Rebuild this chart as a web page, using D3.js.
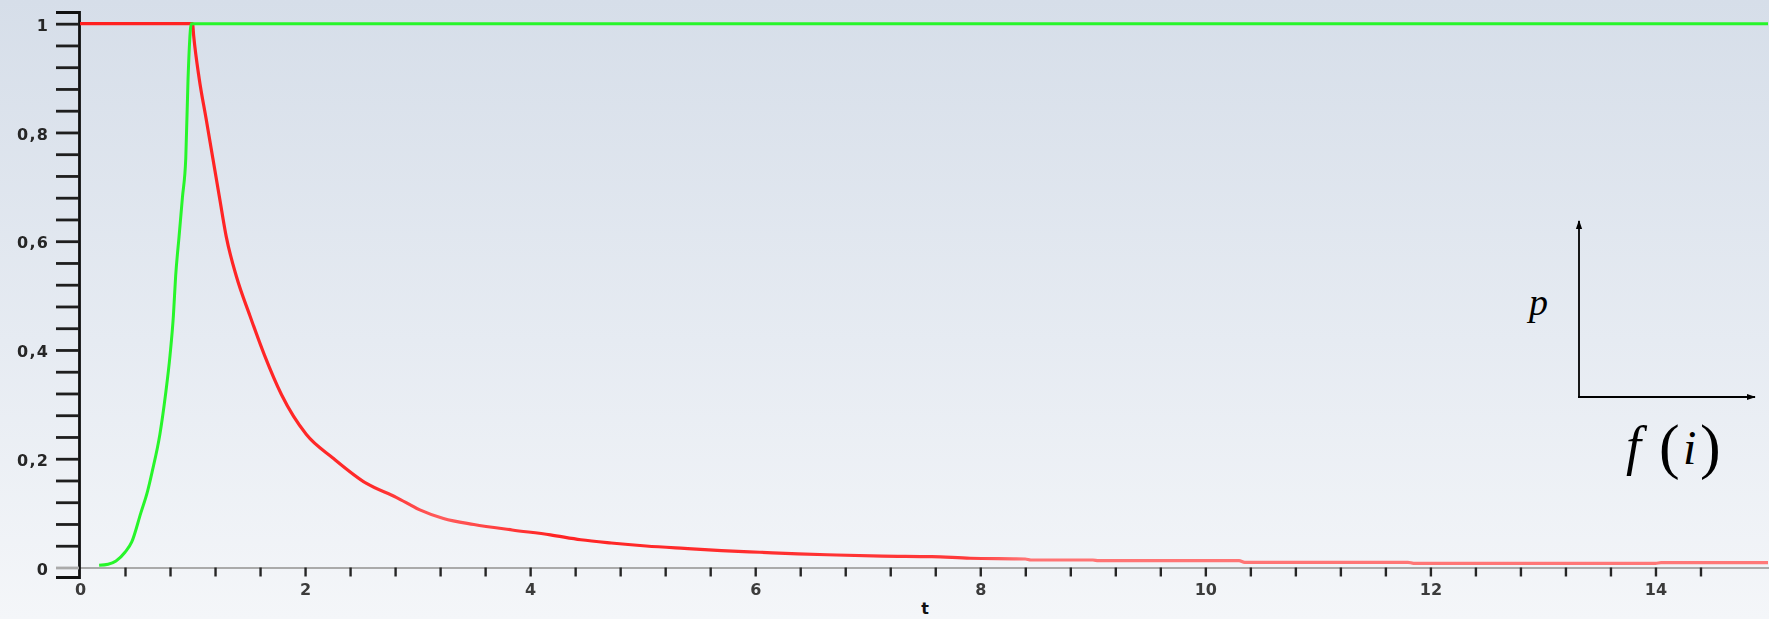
<!DOCTYPE html>
<html>
<head>
<meta charset="utf-8">
<script src="https://cdn.jsdelivr.net/npm/d3@7"></script>
<style>
  html, body { margin: 0; padding: 0; overflow: hidden; background: #eef1f6; }
  svg { display: block; }
</style>
</head>
<body>
<svg id="chart" width="1769" height="619"></svg>
<script>
// Falling curve p(t): flat at 1 up to t = 1, then decaying towards 0
const redT = [0, 1.0, 1.01, 1.06, 1.12, 1.18, 1.24, 1.30, 1.39, 1.51, 1.64, 1.79, 2.01, 2.25, 2.55, 2.81, 3.02,
  3.23, 3.50, 3.84, 4.18, 4.45, 4.72, 5.03, 5.37, 5.70, 6.04, 6.38, 6.72, 7.13, 7.57, 7.91,
  8.40, 8.45, 9.00, 9.05, 10.30, 10.35, 11.80, 11.85, 14.00, 14.05, 15.0];
const redP = [1, 1, 0.978, 0.898, 0.826, 0.753, 0.68, 0.608, 0.535, 0.463, 0.39, 0.318, 0.245, 0.201, 0.154, 0.129, 0.106,
  0.090, 0.079, 0.069, 0.060, 0.051, 0.045, 0.0395, 0.035, 0.031, 0.028, 0.025, 0.023, 0.021, 0.020, 0.017,
  0.0156, 0.0138, 0.0138, 0.0126, 0.0126, 0.0095, 0.0095, 0.0077, 0.0077, 0.0088, 0.0088];

// Rising curve p(t): climbs from 0 to 1 before t = 1, then stays at 1
const greenT = [0.17, 0.25, 0.32, 0.40, 0.46, 0.54, 0.60, 0.64, 0.71, 0.76, 0.80, 0.83, 0.85, 0.88, 0.91, 0.94, 0.96, 0.99, 15.0];
const greenP = [0.004, 0.006, 0.012, 0.028, 0.047, 0.10, 0.14, 0.175, 0.245, 0.318, 0.39, 0.463, 0.536, 0.608, 0.68, 0.753, 0.898, 1.0, 1.0];

// Axis ticks and labels
const xTicks = d3.range(0, 37).map(i => +(i * 0.4).toFixed(2));
const xLabels = [0, 2, 4, 6, 8, 10, 12, 14];
const yTicks = d3.range(0, 26).map(i => +(i * 0.04).toFixed(2));
const yLabels = [0, 0.2, 0.4, 0.6, 0.8, 1];

const W = 1769, H = 619;
const svg = d3.select("#chart");
const defs = svg.append("defs");

// Background: soft vertical wash from blue-grey to near white
const bg = defs.append("linearGradient").attr("id", "bg").attr("x1", 0).attr("y1", 0).attr("x2", 0).attr("y2", 1);
bg.append("stop").attr("offset", "0%").attr("stop-color", "#d6dee9");
bg.append("stop").attr("offset", "55%").attr("stop-color", "#e6ebf2");
bg.append("stop").attr("offset", "100%").attr("stop-color", "#f4f6f9");
svg.append("rect").attr("width", W).attr("height", H).attr("fill", "url(#bg)");

// Slight softening for the small bitmap-like axis numbers
defs.append("filter").attr("id", "soft")
  .append("feGaussianBlur").attr("stdDeviation", 0.55);

// Scales
const x = d3.scaleLinear().domain([0, 15]).range([80, 1768]);
const y = d3.scaleLinear().domain([-0.0175, 1.0215]).range([577, 12]);

const locale = d3.formatLocale({ decimal: ",", thousands: ".", grouping: [3], currency: ["", ""] });
const fmt = locale.format("~g");
const isLabel = (arr, d) => arr.some(v => Math.abs(v - d) < 1e-6);

// x axis
const xAxis = svg.append("g")
  .attr("transform", `translate(0,${y(0)})`)
  .call(d3.axisBottom(x)
    .tickValues(xTicks)
    .tickSize(9)
    .tickSizeOuter(0)
    .tickPadding(7)
    .tickFormat(d => isLabel(xLabels, d) ? fmt(d) : ""));
xAxis.select(".domain").attr("stroke", "#aaaaaa").attr("stroke-width", 2.2)
  .attr("d", `M${56},0.5H${W}`);
xAxis.selectAll(".tick line").attr("stroke", "#262626").attr("stroke-width", 2.4);
xAxis.selectAll(".tick").filter(d => d === 0).select("line").remove();
xAxis.selectAll(".tick text")
  .attr("font-family", "DejaVu Sans, sans-serif").attr("font-weight", "bold")
  .attr("font-size", 16).attr("fill", "#3a3a3a")
  .attr("filter", "url(#soft)");

// y axis
const yAxis = svg.append("g")
  .attr("transform", `translate(${x(0) - 1},0)`)
  .call(d3.axisLeft(y)
    .tickValues(yTicks)
    .tickSize(23)
    .tickSizeOuter(23)
    .tickPadding(7)
    .tickFormat(d => isLabel(yLabels, d) ? fmt(d) : ""));
yAxis.select(".domain").attr("stroke", "#111").attr("stroke-width", 2.8);
yAxis.selectAll(".tick line").attr("stroke", "#1e1e1e").attr("stroke-width", 2.8);
yAxis.selectAll(".tick").filter(d => d === 0).select("line").attr("stroke", "#aaaaaa");
yAxis.selectAll(".tick text")
  .attr("font-family", "DejaVu Sans, sans-serif").attr("font-weight", "bold")
  .attr("font-size", 16).attr("letter-spacing", 1.2).attr("fill", "#262626")
  .attr("dy", "0.42em")
  .attr("filter", "url(#soft)");

// x axis title at the bottom edge
svg.append("text")
  .attr("x", 925).attr("y", 614)
  .attr("text-anchor", "middle")
  .attr("font-family", "DejaVu Sans, sans-serif").attr("font-weight", "bold")
  .attr("font-size", 16).attr("fill", "#111")
  .text("t");

// Curves
const line = d3.line().x(d => x(d[0])).y(d => y(d[1])).curve(d3.curveMonotoneX);

const redGrad = defs.append("linearGradient").attr("id", "redStroke")
  .attr("gradientUnits", "userSpaceOnUse")
  .attr("x1", x(0)).attr("x2", x(15)).attr("y1", 0).attr("y2", 0);
[[0, "#ff1f1f"], [2.6, "#ff2a2a"], [3.2, "#ff5c5c"], [4.2, "#ff2424"], [7.9, "#ff3a3a"], [8.4, "#ff7474"], [15, "#ff7878"]]
  .forEach(([t, c]) => redGrad.append("stop").attr("offset", (t / 15 * 100) + "%").attr("stop-color", c));

const redData = redT.map((t, i) => [t, redP[i]]);
const greenData = greenT.map((t, i) => [t, greenP[i]]);

svg.append("path")
  .datum(redData)
  .attr("d", line)
  .attr("fill", "none")
  .attr("stroke", "url(#redStroke)")
  .attr("stroke-width", 3.2)
  .attr("stroke-linejoin", "round");

svg.append("path")
  .datum(greenData)
  .attr("d", line)
  .attr("fill", "none")
  .attr("stroke", "#27f52a")
  .attr("stroke-width", 3)
  .attr("stroke-linejoin", "round");

// Small axes sketch: p against f(i)
const sketch = svg.append("g");
const arrow = defs.append("marker").attr("id", "arrowHead")
  .attr("viewBox", "0 0 10 10").attr("refX", 9).attr("refY", 5)
  .attr("markerWidth", 9).attr("markerHeight", 9)
  .attr("markerUnits", "userSpaceOnUse").attr("orient", "auto");
arrow.append("path").attr("d", "M0,1.5L10,5L0,8.5Z").attr("fill", "#000");

sketch.append("line")
  .attr("x1", 1579).attr("y1", 397).attr("x2", 1579).attr("y2", 221)
  .attr("stroke", "#000").attr("stroke-width", 1.8).attr("marker-end", "url(#arrowHead)");
sketch.append("line")
  .attr("x1", 1578).attr("y1", 397).attr("x2", 1755).attr("y2", 397)
  .attr("stroke", "#000").attr("stroke-width", 1.8).attr("marker-end", "url(#arrowHead)");

sketch.append("text")
  .attr("x", 1529).attr("y", 315)
  .attr("font-family", "Liberation Serif, serif").attr("font-style", "italic")
  .attr("font-size", 38).attr("fill", "#000")
  .text("p");

const fi = sketch.append("text")
  .attr("y", 464)
  .attr("font-family", "Liberation Serif, serif")
  .attr("font-size", 48).attr("fill", "#000");
fi.append("tspan").attr("x", 1626).attr("font-style", "italic").attr("font-size", 54).text("f");
fi.append("tspan").attr("x", 1659).attr("font-size", 62).attr("dy", 3).text("(");
fi.append("tspan").attr("x", 1683).attr("font-style", "italic").attr("dy", -3).text("i");
fi.append("tspan").attr("x", 1700).attr("font-size", 62).attr("dy", 3).text(")");
</script>
</body>
</html>
